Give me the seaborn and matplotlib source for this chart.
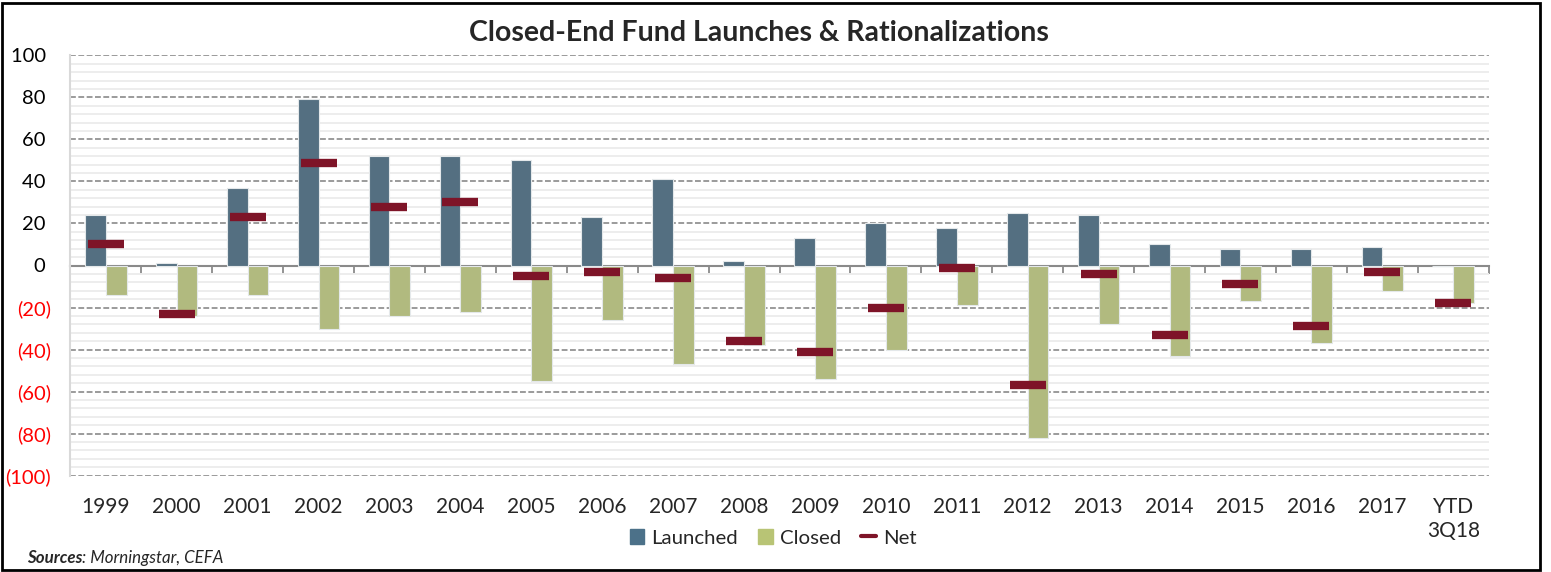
import numpy as np
import pandas as pd
import seaborn as sns
import matplotlib.pyplot as plt
from matplotlib.patches import Patch, Rectangle
from matplotlib.lines import Line2D
from matplotlib.ticker import MultipleLocator

years = ['1999', '2000', '2001', '2002', '2003', '2004', '2005', '2006', '2007', '2008',
         '2009', '2010', '2011', '2012', '2013', '2014', '2015', '2016', '2017', 'YTD\n3Q18']
launched = [24, 1, 37, 79, 52, 52, 50, 23, 41, 2, 13, 20, 18, 25, 24, 10, 8, 8, 9, 0]
closed = [-14, -24, -14, -30, -24, -22, -55, -26, -47, -38, -54, -40, -19, -82, -28, -43, -17, -37, -12, -18]
net = [10, -23, 23, 49, 28, 30, -5, -3, -6, -36, -41, -20, -1, -57, -4, -33, -9, -29, -3, -18]
y_ticks = [100, 80, 60, 40, 20, 0, -20, -40, -60, -80, -100]

blue = '#4c7189'
green = '#b8c475'
red = '#7e1428'

sns.set_theme(style="white")
plt.rcParams['font.family'] = ['Lato', 'DejaVu Sans']

bars = pd.DataFrame({
    'Year': years * 2,
    'Count': launched + closed,
    'Type': ['Launched'] * len(years) + ['Closed'] * len(years),
})
net_df = pd.DataFrame({'Year': years, 'Net': net})

fig = plt.figure(figsize=(15.51, 5.72), dpi=100)
ax = fig.add_axes([70.3 / 1551, 1 - 475.7 / 572, (1488.7 - 70.3) / 1551, (475.7 - 55.3) / 572])
ax.set_axisbelow(True)

sns.barplot(data=bars, x='Year', y='Count', hue='Type', hue_order=['Launched', 'Closed'],
            palette={'Launched': blue, 'Closed': green}, width=0.585,
            edgecolor='#e4e8ea', linewidth=0.8, legend=False, ax=ax)
sns.pointplot(data=net_df, x='Year', y='Net', color=red, marker='_', markersize=26,
              markeredgewidth=6, linestyle='none', errorbar=None, ax=ax)

ax.set_xlim(-0.5, len(years) - 0.5)
ax.set_ylim(-100, 100)
ax.set_yticks(y_ticks)
# accounting style: negatives in red parentheses, positives padded on the right
ax.set_yticklabels([f'({abs(v)})' if v < 0 else f'{v} ' for v in y_ticks])
for lbl, v in zip(ax.get_yticklabels(), y_ticks):
    lbl.set_color('#ff0000' if v < 0 else 'black')
ax.yaxis.set_minor_locator(MultipleLocator(4))
ax.yaxis.grid(True, which='minor', color='#ededed', lw=1.4, ls='-')
ax.yaxis.grid(True, which='major', color='#8a8a8a', lw=1.2, ls=(0, (3.5, 1.5)))
ax.tick_params(axis='y', which='major', length=7, color='#8a8a8a', labelsize=14.5, pad=7)
ax.tick_params(axis='y', which='minor', length=0)
ax.tick_params(axis='x', length=0, labelsize=15, pad=15)
for lbl in ax.get_xticklabels():
    lbl.set_linespacing(1.3)
ax.set_xlabel('')
ax.set_ylabel('')

for side in ['top', 'right', 'bottom']:
    ax.spines[side].set_visible(False)
ax.spines['left'].set_color('#d9d9d9')
ax.spines['left'].set_linewidth(1.5)

# zero line with category separator ticks
sec = ax.secondary_xaxis(0.5)
sec.set_alignment('bottom')
sec.set_xticks(np.arange(len(years) + 1) - 0.5)
sec.tick_params(axis='x', length=6, width=1.3, color='#8a8a8a', direction='out', labelbottom=False)
sec.spines['bottom'].set_color('#8a8a8a')
sec.spines['bottom'].set_linewidth(1.5)

fig.text(759 / 1551, 1 - 33 / 572, 'Closed-End Fund Launches & Rationalizations',
         ha='center', va='center', fontsize=20.5, fontweight='bold')

handles = [Patch(color=blue), Patch(color=green), Line2D([], [], color=red, lw=3)]
fig.legend(handles, ['Launched', 'Closed', 'Net'], loc='center', ncol=3, frameon=False,
           bbox_to_anchor=(773 / 1551, 1 - 538 / 572), fontsize=14.7,
           handlelength=0.7, handleheight=0.7, columnspacing=1.0, handletextpad=0.35)

src = fig.text(27 / 1551, 1 - 558 / 572, 'Sources', fontsize=12.2, style='italic',
               fontweight='bold', va='center')
fig.canvas.draw()
bb = src.get_window_extent()
fig.text(bb.x1 / 1551, 1 - 558 / 572, ': Morningstar, CEFA', fontsize=12.2, style='italic', va='center')

fig.add_artist(Rectangle((0.001, 0.003), 1538 / 1551, 567 / 572, transform=fig.transFigure,
                         fill=False, edgecolor='black', lw=2))

fig.savefig('out.png', dpi=100)
